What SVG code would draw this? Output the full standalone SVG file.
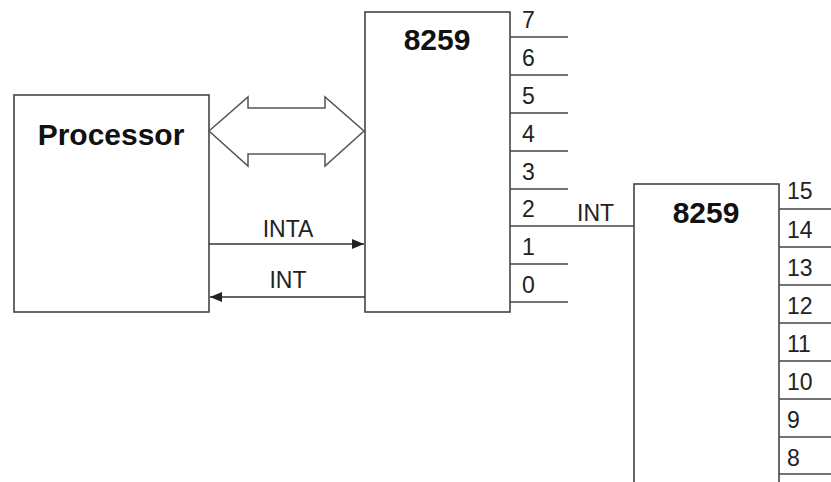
<svg xmlns="http://www.w3.org/2000/svg" width="831" height="482" viewBox="0 0 831 482">
<defs>
<style>
.box{fill:#fff;stroke:#444;stroke-width:1.6}
.pin{stroke:#444;stroke-width:1.6;fill:none}
.wire{stroke:#333;stroke-width:1.6;fill:none}
.title{font-family:"Liberation Sans",Arial,sans-serif;font-weight:bold;font-size:30px;fill:#111;text-anchor:middle}
.lbl{font-family:"Liberation Sans",Arial,sans-serif;font-size:23px;fill:#222}
.mid{text-anchor:middle}
</style>
<marker id="ah" viewBox="0 0 12 10" refX="12" refY="5" markerWidth="12" markerHeight="10" markerUnits="userSpaceOnUse" orient="auto">
<path d="M0,0 L12,5 L0,10 Z" fill="#222"/>
</marker>
</defs>
<rect width="831" height="482" fill="#fff"/>

<g id="processor">
<rect class="box" x="14" y="95" width="195" height="217"/>
<text class="title" x="111" y="145">Processor</text>
</g>

<g id="pic1">
<rect class="box" x="365" y="12" width="145" height="300"/>
<text class="title" x="437" y="50">8259</text>
<g class="pin">
<line x1="510" y1="37" x2="568" y2="37"/>
<line x1="510" y1="75" x2="568" y2="75"/>
<line x1="510" y1="113" x2="568" y2="113"/>
<line x1="510" y1="151" x2="568" y2="151"/>
<line x1="510" y1="189" x2="568" y2="189"/>
<line x1="510" y1="264" x2="568" y2="264"/>
<line x1="510" y1="302" x2="568" y2="302"/>
</g>
<g class="lbl">
<text x="522" y="28">7</text>
<text x="522" y="66">6</text>
<text x="522" y="104">5</text>
<text x="522" y="142">4</text>
<text x="522" y="180">3</text>
<text x="522" y="217">2</text>
<text x="522" y="255">1</text>
<text x="522" y="293">0</text>
</g>
</g>

<g id="pic2">
<rect class="box" x="634" y="184" width="145" height="310"/>
<text class="title" x="706" y="223">8259</text>
<g class="pin">
<line x1="779" y1="209" x2="831" y2="209"/>
<line x1="779" y1="247" x2="831" y2="247"/>
<line x1="779" y1="285" x2="831" y2="285"/>
<line x1="779" y1="323" x2="831" y2="323"/>
<line x1="779" y1="361" x2="831" y2="361"/>
<line x1="779" y1="399" x2="831" y2="399"/>
<line x1="779" y1="437" x2="831" y2="437"/>
<line x1="779" y1="474" x2="831" y2="474"/>
</g>
<g class="lbl">
<text x="787" y="199">15</text>
<text x="787" y="238">14</text>
<text x="787" y="276">13</text>
<text x="787" y="314">12</text>
<text x="787" y="352">11</text>
<text x="787" y="390">10</text>
<text x="787" y="428">9</text>
<text x="787" y="466">8</text>
</g>
</g>

<g id="connectors">
<polygon points="209,131 248,97 248,108 325,108 325,97 364,131 325,166 325,154 248,154 248,166" fill="#fff" stroke="#555" stroke-width="1.5" stroke-linejoin="miter"/>
<line class="wire" x1="209" y1="244" x2="364" y2="244" marker-end="url(#ah)"/>
<text class="lbl mid" x="288" y="237">INTA</text>
<line class="wire" x1="365" y1="297" x2="210" y2="297" marker-end="url(#ah)"/>
<text class="lbl mid" x="288" y="288">INT</text>
<line class="pin" x1="510" y1="226" x2="634" y2="226"/>
<text class="lbl" x="577" y="221">INT</text>
</g>
</svg>
